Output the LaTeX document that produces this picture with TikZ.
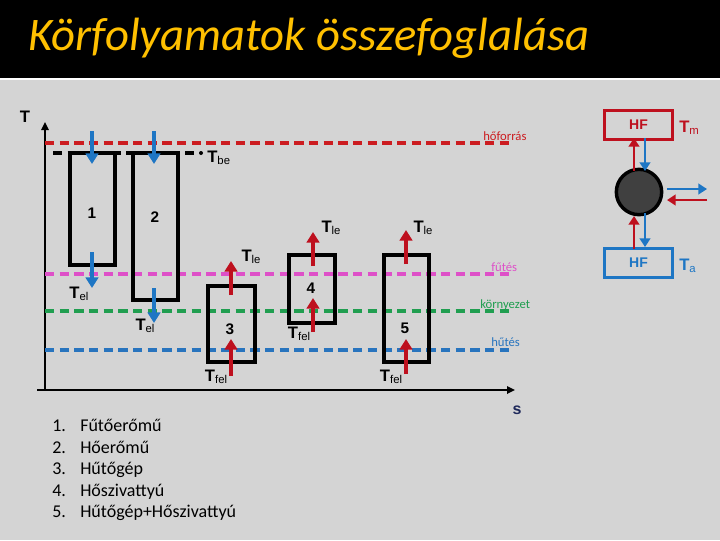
\documentclass[tikz,border=0pt]{standalone}
\usepackage{fontspec}
\setmainfont{Carlito}
\newfontfamily\arialf{Liberation Sans}
\usetikzlibrary{arrows.meta}
\definecolor{bggray}{RGB}{212,212,212}
\definecolor{titley}{RGB}{255,192,0}
\definecolor{hred}{RGB}{204,28,32}
\definecolor{hpink}{RGB}{222,80,200}
\definecolor{hgreen}{RGB}{32,158,80}
\definecolor{hblue}{RGB}{40,116,190}
\definecolor{ared}{RGB}{190,16,30}
\definecolor{ablue}{RGB}{30,118,196}
\definecolor{snavy}{RGB}{30,40,90}
\definecolor{ballgray}{RGB}{64,64,64}
\newcommand{\TT}[1]{{\arialf\fontsize{12.5}{12.5}\selectfont\bfseries T}{\arialf\fontsize{8.5}{8.5}\selectfont\raisebox{-0.35ex}{#1}}}
\tikzset{
  lvl/.style={line width=2.6pt, dash pattern=on 7pt off 4pt},
  boxline/.style={draw=black, line width=2.8pt},
  upar/.style={draw=ared, line width=2.8pt, -{Triangle[length=8pt,width=9.5pt]}},
  dnar/.style={draw=ablue, line width=2.8pt, -{Triangle[length=8pt,width=9.5pt]}},
  smar/.style={line width=2.2pt, -{Triangle[length=6.5pt,width=8pt]}},
  lvllabel/.style={font=\fontsize{9.5}{9.5}\selectfont, inner sep=0pt},
  tlab/.style={inner sep=0pt},
  numlab/.style={font=\arialf\bfseries\fontsize{11.5}{11.5}\selectfont, inner sep=0pt},
  hfbox/.style={line width=2.2pt, minimum width=51pt, minimum height=22pt, font=\arialf\bfseries\fontsize{10.5}{10.5}\selectfont, inner sep=0pt},
  listnum/.style={font=\fontsize{13.5}{13.5}\selectfont, anchor=base west, inner sep=0pt},
  listtxt/.style={font=\fontsize{13.5}{13.5}\selectfont, anchor=base west, inner sep=0pt},
}
\begin{document}
\begin{tikzpicture}[x=0.75pt,y=-0.75pt]
\useasboundingbox (0,0) rectangle (720,540);
% background
\fill[bggray] (0,0) rectangle (720,540);
\fill[black] (0,0) rectangle (720,78);
\fill[white] (0,78) rectangle (720,80);
\node[anchor=base west, inner sep=0pt, text=titley, font=\itshape\fontsize{35}{35}\selectfont] (title) at (28,50) {Körfolyamatok összefoglalása};

% axes
\coordinate (ax0) at (45,390);
\coordinate (axT) at (45,122);
\coordinate (axS) at (515,390);
\coordinate (axL) at (37,390);
\draw[line width=1.8pt, -{Triangle[length=6pt,width=5.5pt]}] (ax0) -- (axT);
\draw[line width=1.8pt, -{Triangle[length=6pt,width=5.5pt]}] (axL) -- (axS);
\node[tlab, font=\arialf\bfseries\fontsize{12.5}{12.5}\selectfont] (Tax) at (25,117) {T};
\node[tlab, text=snavy, font=\arialf\bfseries\fontsize{12}{12}\selectfont] (sax) at (517,410) {s};

% level lines
\draw[lvl, hred] (45,143) -- (513,143);
\draw[lvl, hpink] (45,274) -- (513,274);
\draw[lvl, hgreen] (45,311) -- (513,311);
\draw[lvl, hblue] (45,350) -- (513,350);
\draw[line width=2.6pt, dash pattern=on 7pt off 4pt] (53,153) -- (199,153);
\fill (201,153) circle (2);
\node[lvllabel, text=hred, anchor=base west] (lhf) at (483,140) {hőforrás};
\node[lvllabel, text=hpink, anchor=base west] (lfu) at (491,271) {fűtés};
\node[lvllabel, text=hgreen, anchor=base west] (lko) at (480,308) {környezet};
\node[lvllabel, text=hblue, anchor=base west] (lhu) at (491,346) {hűtés};
\node[tlab, anchor=base west] (Tbe) at (207,162) {\TT{be}};

% boxes
\draw[boxline] (70,153) rectangle (115,265);
\draw[boxline] (133,153) rectangle (178,300);
\draw[boxline] (208,286) rectangle (255,362);
\draw[boxline] (289,255) rectangle (335,323);
\draw[boxline] (384,255) rectangle (429,362);
\node[numlab] (n1) at (92,213) {1};
\node[numlab] (n2) at (155,217) {2};
\node[numlab] (n3) at (230,329) {3};
\node[numlab] (n4) at (311,288) {4};
\node[numlab] (n5) at (405,328) {5};

% arrows in boxes 1,2
\coordinate (a1s) at (92,131); \coordinate (a1e) at (92,164);
\coordinate (a2s) at (154,131); \coordinate (a2e) at (154,164);
\coordinate (a3s) at (92,252); \coordinate (a3e) at (92,288);
\coordinate (a4s) at (154,288); \coordinate (a4e) at (154,323);
\draw[dnar] (a1s) -- (a1e);
\draw[dnar] (a2s) -- (a2e);
\draw[dnar] (a3s) -- (a3e);
\draw[dnar] (a4s) -- (a4e);
% arrows in boxes 3,4,5
\coordinate (b3s) at (231,376); \coordinate (b3e) at (231,339);
\coordinate (b3u) at (231,295); \coordinate (b3t) at (231,261);
\coordinate (b4s) at (313,332); \coordinate (b4e) at (313,298);
\coordinate (b4u) at (313,266); \coordinate (b4t) at (313,232);
\coordinate (b5s) at (406,374); \coordinate (b5e) at (406,339);
\coordinate (b5u) at (406,264); \coordinate (b5t) at (406,230);
\draw[upar] (b3s) -- (b3e);
\draw[upar] (b3u) -- (b3t);
\draw[upar] (b4s) -- (b4e);
\draw[upar] (b4u) -- (b4t);
\draw[upar] (b5s) -- (b5e);
\draw[upar] (b5u) -- (b5t);

% T labels
\node[tlab] (Tel1) at (79,294) {\TT{el}};
\node[tlab] (Tel2) at (145,326) {\TT{el}};
\node[tlab] (Tle3) at (251,257) {\TT{le}};
\node[tlab] (Tle4) at (331,228) {\TT{le}};
\node[tlab] (Tle5) at (423,228) {\TT{le}};
\node[tlab] (Tfel3) at (216,377) {\TT{fel}};
\node[tlab] (Tfel4) at (299,334) {\TT{fel}};
\node[tlab] (Tfel5) at (391,377) {\TT{fel}};

% right schematic
\node[hfbox, draw=ared, text=ared] (hftop) at (638.5,125) {HF};
\node[hfbox, draw=ablue, text=ablue] (hfbot) at (638.5,263) {HF};
\node[circle, fill=ballgray, draw=black, line width=2.6pt, minimum size=34pt, inner sep=0pt] (ball) at (639,192) {};
\node[tlab, text=ared, anchor=west] (Tm) at (679,128) {{\arialf\fontsize{12.5}{12.5}\selectfont\bfseries T}{\arialf\fontsize{8.5}{8.5}\selectfont\raisebox{-0.35ex}{m}}};
\node[tlab, text=ablue, anchor=west] (Ta) at (679,266) {{\arialf\fontsize{12.5}{12.5}\selectfont\bfseries T}{\arialf\fontsize{8.5}{8.5}\selectfont\raisebox{-0.35ex}{a}}};
\coordinate (r1s) at (634,171); \coordinate (r1e) at (634,138);
\coordinate (u1s) at (645,138); \coordinate (u1e) at (645,171);
\coordinate (r2s) at (634,249); \coordinate (r2e) at (634,216);
\coordinate (u2s) at (645,213); \coordinate (u2e) at (645,247);
\coordinate (hbs) at (667,189); \coordinate (hbe) at (707,189);
\coordinate (hrs) at (707,200); \coordinate (hre) at (667,200);
\draw[smar, draw=ared] (r1s) -- (r1e);
\draw[smar, draw=ablue] (u1s) -- (u1e);
\draw[smar, draw=ared] (r2s) -- (r2e);
\draw[smar, draw=ablue] (u2s) -- (u2e);
\draw[smar, draw=ablue] (hbs) -- (hbe);
\draw[smar, draw=ared] (hrs) -- (hre);

% list
\node[listnum] (l1n) at (52,431) {1.};
\node[listnum] (l2n) at (52,453) {2.};
\node[listnum] (l3n) at (52,474) {3.};
\node[listnum] (l4n) at (52,496) {4.};
\node[listnum] (l5n) at (52,517) {5.};
\node[listtxt] (l1) at (80,431) {Fűtőerőmű};
\node[listtxt] (l2) at (80,453) {Hőerőmű};
\node[listtxt] (l3) at (80,474) {Hűtőgép};
\node[listtxt] (l4) at (80,496) {Hőszivattyú};
\node[listtxt] (l5) at (80,517) {Hűtőgép+Hőszivattyú};
\end{tikzpicture}
\end{document}
